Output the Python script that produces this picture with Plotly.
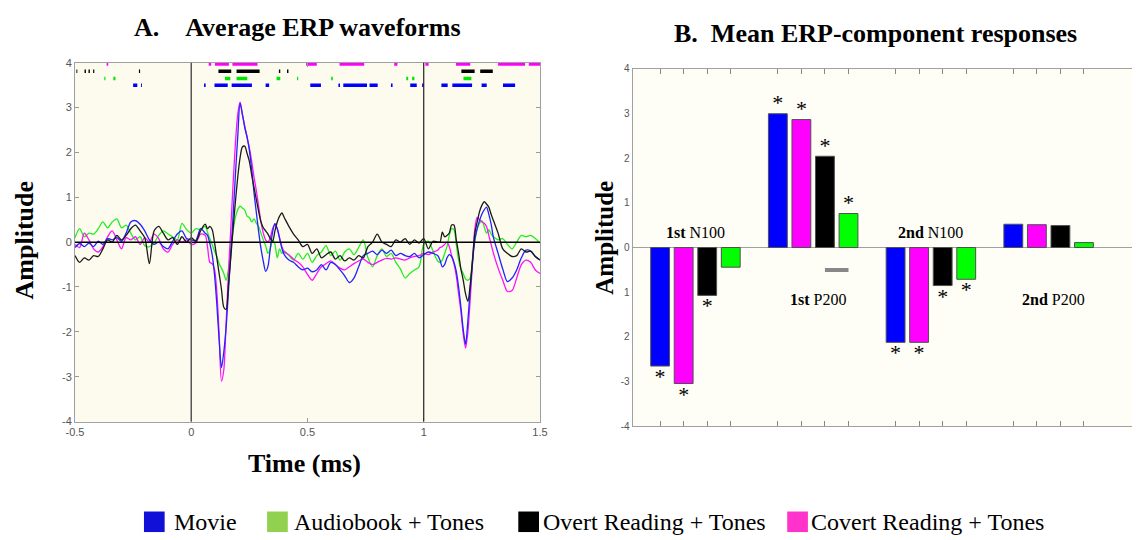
import plotly.graph_objects as go

W, H = 1140, 540
def px(x): return x / W
def py(y): return 1 - y / H

# ---------------- Panel A data: average ERP waveforms ----------------
time_s = [-0.50, -0.48, -0.46, -0.44, -0.42, -0.40, -0.38, -0.36, -0.34, -0.32,
          -0.30, -0.28, -0.26, -0.24, -0.22, -0.20, -0.18, -0.16, -0.14, -0.12,
          -0.10, -0.08, -0.06, -0.04, -0.02, 0.00, 0.02, 0.04, 0.06,
          0.07, 0.08, 0.09, 0.10, 0.11, 0.12, 0.13, 0.14, 0.15, 0.16,
          0.17, 0.18, 0.19, 0.20, 0.21, 0.22, 0.23, 0.24, 0.25, 0.26,
          0.27, 0.28, 0.29, 0.30, 0.31, 0.32, 0.33, 0.34, 0.35, 0.36,
          0.37, 0.38, 0.39, 0.40,
          0.42, 0.44, 0.46, 0.48, 0.50, 0.52, 0.54, 0.56, 0.58, 0.60,
          0.62, 0.64, 0.66, 0.68, 0.70, 0.72, 0.74, 0.76, 0.78, 0.80,
          0.82, 0.84, 0.86, 0.88, 0.90, 0.92, 0.94, 0.96, 0.98, 1.00,
          1.02, 1.04, 1.06,
          1.07, 1.08, 1.09, 1.10, 1.11, 1.12, 1.13, 1.14, 1.15, 1.16,
          1.17, 1.18, 1.19, 1.20, 1.21, 1.22, 1.23, 1.24, 1.25, 1.26,
          1.27, 1.28, 1.29, 1.30,
          1.32, 1.34, 1.36, 1.38, 1.40, 1.42, 1.44, 1.46, 1.48, 1.50]

movie_wave = [-0.12, -0.03, -0.10, -0.02, -0.10, 0.02, -0.05, 0.08, 0.05, 0.10,
              0.02, 0.20, 0.45, 0.48, 0.40, 0.25, 0.05, -0.05, 0.00, -0.10,
              -0.15, 0.02, 0.18, 0.25, 0.08, 0.05, 0.04, 0.30, 0.20,
              0.15, -0.03, -0.28, -0.72, -1.38, -2.18, -2.80, -2.45, -1.90, -1.10,
              -0.27, 0.58, 1.50, 2.35, 3.10, 2.85, 2.56, 2.34, 2.05, 1.61,
              1.10, 0.66, 0.23, -0.14, -0.43, -0.65, -0.54, -0.14, 0.23, 0.41,
              0.30, 0.08, -0.14, -0.28,
              -0.40, -0.45, -0.55, -0.62, -0.58, -0.66, -0.62, -0.50, -0.62, -0.45,
              -0.50, -0.62, -0.75, -0.90, -0.80, -0.55, -0.30, -0.25, -0.20, -0.28,
              -0.18, -0.25, -0.18, -0.30, -0.25, -0.30, -0.32, -0.25, -0.35, -0.28,
              -0.22, -0.25, -0.30,
              -0.40, -0.55, -0.50, -0.35, -0.28, -0.32, -0.45, -0.65, -1.00, -1.45,
              -1.95, -2.28, -1.75, -1.05, -0.45, 0.05, 0.30, 0.48, 0.62, 0.72,
              0.78, 0.62, 0.40, 0.10,
              -0.25, -0.60, -0.88, -0.80, -0.62, -0.35, -0.18, -0.20, -0.32, -0.40]

covert_wave = [-0.05, -0.12, 0.20, 0.05, -0.15, -0.22, -0.10, 0.12, 0.25, 0.05,
               -0.15, 0.10, 0.05, 0.12, -0.05, 0.10, 0.00, 0.18, 0.08, -0.15,
               -0.22, -0.05, 0.05, 0.00, 0.05, -0.05, -0.02, 0.18, 0.15,
               -0.10, -0.45, -0.48, -0.60, -1.10, -2.05, -3.10, -2.85, -1.80, -0.70,
               0.30, 1.30, 2.20, 2.85, 3.12, 2.85, 2.60, 2.35, 2.10, 1.80,
               1.45, 1.15, 0.80, 0.45, 0.20, 0.05, 0.00, 0.10, 0.30, 0.40,
               0.30, 0.10, -0.10, -0.22,
               -0.28, -0.38, -0.45, -0.55, -0.72, -0.85, -0.70, -0.55, -0.48, -0.42,
               -0.50, -0.58, -0.62, -0.55, -0.48, -0.42, -0.38, -0.45, -0.50, -0.45,
               -0.40, -0.36, -0.38, -0.35, -0.38, -0.40, -0.35, -0.32, -0.30, -0.25,
               -0.28, -0.22, -0.18,
               -0.12, -0.10, -0.05, 0.00, -0.10, -0.30, -0.48, -0.75, -1.15, -1.55,
               -2.05, -2.36, -2.00, -1.27, -0.45, 0.30, 0.55, 0.50, 0.45, 0.42,
               0.35, 0.15, -0.05, -0.25,
               -0.58, -0.85, -1.10, -1.08, -0.80, -0.50, -0.40, -0.45, -0.62, -0.70]

overt_wave = [-0.30, -0.45, -0.35, -0.40, -0.30, -0.32, -0.15, 0.05, 0.00, 0.15,
              0.05, 0.15, 0.30, 0.38, 0.25, 0.10, -0.48, 0.25, 0.35, 0.20,
              0.05, 0.10, -0.05, 0.12, 0.00, 0.10, 0.02, 0.25, 0.40,
              0.30, 0.35, 0.28, 0.00, -0.35, -0.70, -1.05, -1.45, -1.50, -0.95,
              -0.35, 0.30, 0.90, 1.45, 1.88, 2.12, 2.14, 1.98, 1.80, 1.50,
              1.22, 0.95, 0.68, 0.45, 0.32, 0.25, 0.18, 0.08, 0.02, 0.25,
              0.45, 0.58, 0.65, 0.55,
              0.35, 0.18, 0.05, -0.10, -0.05, -0.25, -0.15, -0.35, -0.28, -0.22,
              -0.38, -0.30, -0.42, -0.35, -0.40, -0.30, -0.35, -0.10, 0.00, 0.18,
              0.00, -0.05, -0.10, 0.05, 0.00, 0.08, -0.05, 0.05, -0.02, 0.08,
              -0.15, 0.02, 0.00,
              0.00, 0.22, 0.12, 0.15, 0.20, 0.38, 0.38, 0.05, -0.25, -0.60,
              -0.85, -1.15, -1.32, -0.95, -0.40, 0.20, 0.45, 0.68, 0.82, 0.90,
              0.85, 0.78, 0.62, 0.48,
              0.20, -0.15, -0.25, -0.32, -0.30, -0.15, -0.22, -0.20, -0.32, -0.40]

audiobook_wave = [0.10, 0.30, 0.12, 0.20, 0.18, 0.30, 0.45, 0.32, 0.45, 0.52,
                  0.32, 0.38, 0.20, 0.05, 0.12, -0.08, -0.10, -0.02, 0.15, 0.25,
                  0.18, 0.12, 0.05, 0.42, 0.28, 0.20, 0.30, 0.28, 0.35,
                  0.22, 0.08, -0.05, -0.20, -0.32, -0.48, -0.58, -0.70, -0.85, -0.60,
                  -0.15, 0.25, 0.55, 0.72, 0.80, 0.76, 0.72, 0.58, 0.55, 0.45,
                  0.52, 0.42, 0.35, 0.20, 0.05, -0.08, -0.25, -0.15, 0.05, -0.05,
                  -0.35, -0.15, -0.25, -0.20,
                  -0.30, -0.40, -0.25, -0.38, -0.25, -0.45, -0.30, -0.22, -0.08, -0.30,
                  -0.20, -0.40, -0.22, -0.15, -0.28, -0.12, 0.05, -0.35, -0.55, -0.30,
                  -0.15, -0.32, -0.25, -0.45, -0.60, -0.80, -0.70, -0.62, -0.55, -0.05,
                  0.02, -0.20, -0.42,
                  -0.45, -0.40, -0.25, -0.10, 0.15, 0.30, 0.28, -0.05, -0.40, -0.60,
                  -0.70, -0.82, -0.85, -0.80, -0.35, 0.05, 0.30, 0.42, 0.48, 0.35,
                  0.20, 0.28, 0.18, 0.12,
                  0.05, 0.08, -0.05, -0.15, 0.00, 0.15, 0.12, 0.15, 0.08, -0.02]

for s in (movie_wave, covert_wave, overt_wave, audiobook_wave):
    assert len(s) == len(time_s), (len(s), len(time_s))

# significance intervals (start, end) in seconds
covert_sig = [(-0.364, -0.357), (0.075, 0.086), (0.102, 0.162), (0.177, 0.285),
              (0.494, 0.540), (0.638, 0.744), (0.873, 0.887), (1.007, 1.021),
              (1.139, 1.200), (1.320, 1.436), (1.452, 1.501)]
overt_sig = [(-0.494, -0.490), (-0.459, -0.453), (-0.442, -0.436), (-0.422, -0.417),
             (-0.225, -0.220), (0.117, 0.172), (0.195, 0.294), (0.377, 0.383),
             (0.412, 0.418), (1.162, 1.219), (1.243, 1.297)]
audiobook_sig = [(-0.374, -0.369), (-0.335, -0.326), (0.145, 0.168), (0.195, 0.241),
                 (0.367, 0.383), (0.455, 0.460), (0.602, 0.609), (0.925, 0.933),
                 (0.950, 0.960), (1.171, 1.205)]
movie_sig = [(-0.250, -0.232), (-0.216, -0.212), (0.055, 0.062), (0.100, 0.157),
             (0.174, 0.261), (0.320, 0.335), (0.512, 0.558), (0.633, 0.640),
             (0.654, 0.756), (0.767, 0.802), (0.859, 0.866), (0.942, 0.970),
             (0.993, 1.000), (1.076, 1.103), (1.123, 1.208), (1.249, 1.271),
             (1.341, 1.393)]

x_ticks_a = [-0.5, 0, 0.5, 1, 1.5]
x_ticktext_a = ["-0.5", "0", "0.5", "1", "1.5"]
y_ticks = [-4, -3, -2, -1, 0, 1, 2, 3, 4]
y_ticktext_a = ["-4", "-3", "-2", "-1", "0", "1", "2", "3", "4"]

# ---------------- Panel B data: mean ERP-component responses ----------------
components = ["1st N100", "1st P200", "2nd N100", "2nd P200"]
component_labels = ["<b>1st</b> N100", "<b>1st</b> P200", "<b>2nd</b> N100", "<b>2nd</b> P200"]
movie_amp = [-2.65, 2.99, -2.12, 0.52]
covert_amp = [-3.04, 2.86, -2.12, 0.51]
overt_amp = [-1.07, 2.04, -0.85, 0.49]
audiobook_amp = [-0.44, 0.76, -0.71, 0.11]
movie_star = [1, 1, 1, 0]
covert_star = [1, 1, 1, 0]
overt_star = [1, 1, 1, 0]
audiobook_star = [0, 1, 1, 0]
y_ticktext_b = ["-4", "-3", "2", "1", "0", "1", "2", "3", "4"]
dash_x = [8, 9]
dash_y = [-0.5, -0.5]

legend_names = ["Movie", "Audiobook + Tones", "Overt Reading + Tones", "Covert Reading + Tones"]
legend_colors = ["#1010D8", "#92D050", "#000000", "#FF33CC"]

SERIF = "Liberation Serif, Times New Roman, serif"
SANS = "Liberation Sans, Arial, sans-serif"

fig = go.Figure()

# panel backgrounds
fig.add_shape(type="rect", xref="x domain", yref="y domain", x0=0, x1=1, y0=0, y1=1,
              fillcolor="#FCFBEE", line_width=0, layer="below")
fig.add_shape(type="rect", xref="x2 domain", yref="y2 domain", x0=0, x1=1, y0=0, y1=1,
              fillcolor="#FEFDF6", line_width=0, layer="below")

# reference lines panel A
fig.add_shape(type="line", xref="x domain", yref="y", x0=0, x1=1, y0=0, y1=0,
              line=dict(color="#000000", width=1.5))
fig.add_shape(type="line", xref="x", yref="y domain", x0=0, x1=0, y0=0, y1=1,
              line=dict(color="#555555", width=1.5))
fig.add_shape(type="line", xref="x", yref="y domain", x0=1, x1=1, y0=0, y1=1,
              line=dict(color="#222222", width=1.2))

waves = [(audiobook_wave, "#22EE22"), (covert_wave, "#FF10FF"),
         (movie_wave, "#2222FF"), (overt_wave, "#1A1A1A")]
for y, c in waves:
    fig.add_trace(go.Scatter(x=time_s, y=y, mode="lines", xaxis="x", yaxis="y",
                             line=dict(color=c, width=1.3, shape="spline", smoothing=0.8),
                             showlegend=False, hoverinfo="skip"))

sig_rows = [(covert_sig, 3.97, "#FF00FF"), (overt_sig, 3.81, "#000000"),
            (audiobook_sig, 3.65, "#00E600"), (movie_sig, 3.50, "#0000FF")]
for segs, row, c in sig_rows:
    xs, ys = [], []
    for a, b in segs:
        xs += [a, b, None]
        ys += [row, row, None]
    fig.add_trace(go.Scatter(x=xs, y=ys, mode="lines", xaxis="x", yaxis="y",
                             line=dict(color=c, width=3.5), showlegend=False, hoverinfo="skip"))

# ---------------- Panel B bars ----------------
bar_series = [(movie_amp, movie_star, "#0000FF"), (covert_amp, covert_star, "#FF00FF"),
              (overt_amp, overt_star, "#000000"), (audiobook_amp, audiobook_star, "#00FF00")]
bar_positions = []
star_x, star_y = [], []
for i, (vals, stars, c) in enumerate(bar_series):
    xs = [1 + 5 * g + i for g in range(len(components))]
    bar_positions += xs
    fig.add_trace(go.Bar(x=xs, y=vals, width=0.8, xaxis="x2", yaxis="y2",
                         marker=dict(color=c, line=dict(color="#505050", width=1)),
                         showlegend=False, hoverinfo="skip"))
    for xv, v, s in zip(xs, vals, stars):
        if s:
            star_x.append(xv)
            star_y.append(v + 0.2 if v > 0 else v - 0.28)

fig.add_trace(go.Scatter(x=star_x, y=star_y, mode="text", text=["*"] * len(star_x),
                         textposition="middle center", xaxis="x2", yaxis="y2",
                         textfont=dict(family=SERIF, size=22, color="#000000"),
                         cliponaxis=False, showlegend=False, hoverinfo="skip"))

fig.add_trace(go.Scatter(x=dash_x, y=dash_y, mode="lines", xaxis="x2", yaxis="y2",
                         line=dict(color="#888888", width=4), showlegend=False, hoverinfo="skip"))

annotations = []
for g, lab in enumerate(component_labels):
    is_p = "P200" in lab
    annotations.append(dict(x=2.5 + 5 * g + (0.2 if is_p else 0), y=-1.16 if is_p else 0.33,
                            xref="x2", yref="y2", text=lab, showarrow=False,
                            xanchor="center", yanchor="middle",
                            font=dict(family=SERIF, size=16, color="#000000")))

def note(x, y, text, size, xanchor="center", angle=0):
    annotations.append(dict(x=px(x), y=py(y), xref="paper", yref="paper", xanchor=xanchor,
                            yanchor="middle", text=text, showarrow=False, textangle=angle,
                            font=dict(family=SERIF, size=size, color="#000000")))

# titles
note(125, 22, "<b>A.\u00a0\u00a0\u00a0\u00a0Average ERP waveforms</b>", 26, xanchor="left")
note(673, 28, "<b>B.\u00a0\u00a0Mean ERP-component responses</b>", 26, xanchor="left")
note(300, 468, "<b>Time (ms)</b>", 26)
note(16, 240, "<b>Amplitude</b>", 26, angle=-90)
note(605, 237, "<b>Amplitude</b>", 25, angle=-90)

# manual legend
sq_left = [137, 262, 517, 790]
txt_left = [165, 287, 540, 812]
for name, c, sx, tx in zip(legend_names, legend_colors, sq_left, txt_left):
    fig.add_shape(type="rect", xref="paper", yref="paper", x0=px(sx), x1=px(sx + 21),
                  y0=py(538), y1=py(517), fillcolor=c, line=dict(color=c, width=0))
    note(tx, 528, name, 24, xanchor="left")

axis_font = dict(family=SANS, size=11, color="#555555")
fig.update_layout(
    width=W, height=H, margin=dict(l=0, r=0, t=0, b=0),
    paper_bgcolor="#FFFFFF", plot_bgcolor="rgba(0,0,0,0)",
    barmode="overlay", showlegend=False,
    annotations=annotations,
    xaxis=dict(domain=[px(67), px(539)], range=[-0.5, 1.5], anchor="y",
               tickvals=x_ticks_a, ticktext=x_ticktext_a, ticks="inside", ticklen=4,
               tickcolor="#999999", showline=True, linecolor="#A0A0A0", linewidth=1,
               mirror="ticks", showgrid=False, zeroline=False, tickfont=axis_font),
    yaxis=dict(domain=[py(425), py(58)], range=[-4, 4], anchor="x",
               tickvals=y_ticks, ticktext=y_ticktext_a, ticks="inside", ticklen=4,
               tickcolor="#999999", showline=True, linecolor="#A0A0A0", linewidth=1,
               mirror="ticks", showgrid=False, zeroline=False, tickfont=axis_font),
    xaxis2=dict(domain=[px(633), 1.0], range=[-0.17, 21.04], anchor="y2",
                tickvals=sorted(bar_positions), ticktext=[""] * len(bar_positions),
                ticks="inside", ticklen=5, tickcolor="#888888", showline=True,
                linecolor="#A0A0A0", linewidth=1, mirror="ticks", showgrid=False,
                zeroline=False),
    yaxis2=dict(domain=[py(430), py(64)], range=[-4, 4], anchor="x2",
                tickvals=y_ticks, ticktext=y_ticktext_b, ticks="", showline=True,
                linecolor="#A0A0A0", linewidth=1, showgrid=False, zeroline=True,
                zerolinecolor="#A0A0A0", zerolinewidth=1,
                tickfont=dict(family=SANS, size=10, color="#555555")),
)

fig.write_html("out.html")
